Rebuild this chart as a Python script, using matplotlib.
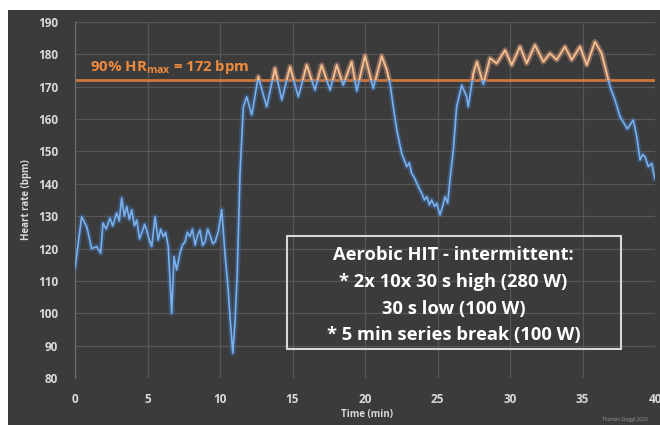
import numpy as np
import matplotlib
matplotlib.use("Agg")
import matplotlib.pyplot as plt
from matplotlib.patches import Rectangle

plt.rcParams['font.family'] = ['Open Sans', 'DejaVu Sans']
plt.rcParams['mathtext.fontset'] = 'custom'
plt.rcParams['mathtext.rm'] = 'Open Sans'
plt.rcParams['mathtext.bf'] = 'Open Sans:bold'

# heart rate trace (time in min, bpm)
time_min = [0.0, 0.46, 0.81, 1.15, 1.50, 1.77, 1.93, 2.15, 2.41, 2.60, 2.88, 3.05, 3.22, 3.40,
            3.57, 3.75, 3.91, 4.10, 4.26, 4.45, 4.60, 4.80, 4.94, 5.10, 5.29, 5.52, 5.74, 5.90,
            6.09, 6.25, 6.43, 6.67, 6.83, 7.01, 7.24, 7.40, 7.59, 7.75, 7.93, 8.10, 8.28, 8.45,
            8.62, 8.80, 8.97, 9.15, 9.31, 9.50, 9.66, 9.88, 10.12, 10.34, 10.55, 10.69, 10.88,
            11.03, 11.19, 11.38, 11.61, 11.84, 12.19, 12.64, 13.22, 13.79, 14.26, 14.83, 15.40,
            15.98, 16.55, 17.01, 17.59, 18.05, 18.50, 19.08, 19.43, 20.00, 20.57, 21.15, 21.50,
            21.72, 21.95, 22.19, 22.53, 22.88, 23.05, 23.22, 23.40, 23.57, 23.75, 23.91, 24.10,
            24.26, 24.45, 24.60, 24.80, 24.94, 25.17, 25.35, 25.52, 25.70, 25.86, 26.09, 26.32,
            26.67, 27.01, 27.12, 27.47, 27.72, 28.16, 28.62, 29.08, 29.66, 30.12, 30.69, 31.15,
            31.72, 32.30, 32.76, 33.22, 33.79, 34.26, 34.83, 35.29, 35.86, 36.32, 36.67, 36.90,
            37.24, 37.59, 37.93, 38.10, 38.28, 38.50, 38.74, 38.97, 39.15, 39.31, 39.54, 39.77,
            40.0]
heart_rate = [114, 129.8, 126.7, 120, 120.6, 118.6, 127.9, 126, 129.4, 127, 131, 128.5, 135.6, 130,
              133, 129, 132, 127, 128.8, 123, 124.8, 127.5, 125.7, 123, 120.6, 129.8, 122.6, 126,
              123.7, 125, 120.6, 100, 117.5, 113.4, 118.6, 121, 122.1, 125, 123.7, 126, 121.1, 124,
              125.7, 121, 122.1, 126, 124.2, 121.5, 122.1, 125.2, 132, 118.6, 108, 99, 87.7,
              97, 112.3, 143.3, 163.8, 166.9, 161.3, 173.1, 163.8, 175.7, 165.9, 176.2, 166.9,
              176.7, 169, 176.7, 169, 176.7, 170.5, 177.7, 168.7, 179.6, 169.5, 179.5, 175.2,
              171.1, 163.8, 156.6, 149.4, 145.3, 146.5, 143.2, 142, 140.2, 138.5, 137.1, 135,
              136, 133.5, 135, 133, 134, 130.4, 133, 136, 134, 141.2, 150.4, 163.8,
              170.5, 166.9, 163.8, 174.1, 177.7, 170.8, 178.8, 177.2, 181.3, 176.7, 182.4, 177.2,
              182.9, 177.7, 180.3, 178.3, 182.4, 178.3, 182.4, 176.7, 183.9, 180.3, 174.1, 170,
              165.9, 160.7, 158.2, 157, 158.2, 159.7, 154.6, 147.4, 149, 148.4, 145.3, 146.3,
              141.5]

hr_threshold = 172
box_lines = ["Aerobic HIT - intermittent:",
             "* 2x 10x 30 s high (280 W)",
             "30 s low (100 W)",
             "* 5 min series break (100 W)"]

bg = "#3b3b3b"
fig = plt.figure(figsize=(6.6, 4.25), dpi=100, facecolor="white")
fig.patches.append(Rectangle((8 / 660, 0), 1, 1 - 10 / 425, transform=fig.transFigure,
                             facecolor=bg, edgecolor="none", zorder=-10))

ax = fig.add_axes([75 / 660, 47 / 425, 580 / 660, 356 / 425])
ax.set_facecolor(bg)

# blue trace with soft glow
ax.plot(time_min, heart_rate, color="#3f7fcf", lw=4, alpha=0.35, zorder=3)
ax.plot(time_min, heart_rate, color="#7ab0ec", lw=1.2, zorder=4)

# part above the threshold drawn in orange
clip = Rectangle((0, hr_threshold), 40, 30, transform=ax.transData)
glow_o, = ax.plot(time_min, heart_rate, color="#e07b39", lw=4, alpha=0.45, zorder=5)
line_o, = ax.plot(time_min, heart_rate, color="#f7c08a", lw=1.2, zorder=6)
glow_o.set_clip_path(clip)
line_o.set_clip_path(clip)

ax.axhline(hr_threshold, color="#e8823c", lw=2, alpha=0.85, zorder=2)
ax.text(1.0, 176.2, r"90% HR$_{\mathbf{max}}$ = 172 bpm", color="#ee8a3e",
        fontsize=10.8, fontweight="bold", va="center", ha="left", zorder=7)

ax.set_xlim(0, 40)
ax.set_ylim(80, 190)
ax.set_xticks(range(0, 41, 5))
ax.set_yticks(range(80, 191, 10))
ax.grid(True, color="#575757", lw=0.9)
ax.set_axisbelow(True)
for s in ["top", "right", "bottom"]:
    ax.spines[s].set_visible(False)
ax.spines["left"].set_color("#707070")
ax.tick_params(length=0, colors="#d9d9d9", labelsize=8.5)
ax.tick_params(axis="y", pad=12)
ax.tick_params(axis="x", pad=11)
for lab in ax.get_xticklabels() + ax.get_yticklabels():
    lab.set_fontweight("bold")

fig.text(27 / 660, 1 - 200 / 425, "Heart rate (bpm)", rotation=90, color="#d9d9d9",
         fontsize=7, fontweight="bold", ha="center", va="center")
fig.text(367 / 660, 1 - 414 / 425, "Time (min)", color="#d9d9d9",
         fontsize=7, fontweight="bold", ha="center", va="center")
fig.text(625 / 660, 1 - 420 / 425, "Thomas Stöggl 2020", color="#9a9a9a",
         fontsize=3.5, ha="center", va="center")

# description box
ax.add_patch(Rectangle((14.62, 89.0), 23.04, 34.9, facecolor="none",
                       edgecolor="#d8d8d8", lw=1.5, zorder=8))
for i, y in enumerate([118.0, 109.7, 101.3, 93.4]):
    ax.text(26.1, y, box_lines[i], color="white", fontsize=13.2, fontweight="bold",
            ha="center", va="center", zorder=9)

fig.savefig("out.png", dpi=100, facecolor=fig.get_facecolor())
